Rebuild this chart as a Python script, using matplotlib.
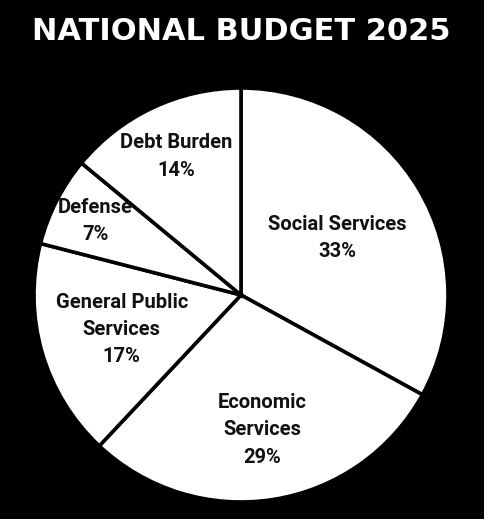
import numpy as np
import matplotlib.pyplot as plt
from matplotlib.patches import Rectangle

categories = ['Social Services', 'Economic\nServices', 'General Public\nServices', 'Defense', 'Debt Burden']
shares = [33, 29, 17, 7, 14]
# how far out each label sits, as a fraction of the radius
label_dist = [0.54, 0.66, 0.60, 0.79, 0.74]

fig = plt.figure(figsize=(4.92, 5.32), dpi=100, facecolor='white')
# black card with a thin white strip at right and bottom, like the scan
fig.patches.append(Rectangle((0, 13 / 532), 484 / 492, 1 - 13 / 532,
                             transform=fig.transFigure, facecolor='black',
                             edgecolor='none', zorder=-5))

ax = fig.add_axes([34 / 492, 30 / 532, 414 / 492, 414 / 532])
ax.set_facecolor('none')
ax.set_zorder(2)
wedges, _ = ax.pie(shares, startangle=90, counterclock=False, radius=1,
                   colors=['white'] * len(shares),
                   wedgeprops=dict(edgecolor='black', linewidth=2.6))

for w, name, pct, d in zip(wedges, categories, shares, label_dist):
    mid = np.deg2rad((w.theta1 + w.theta2) / 2)
    ax.text(d * np.cos(mid), d * np.sin(mid), f'{name}\n{pct}%',
            ha='center', va='center', fontsize=14.5, fontweight='bold',
            family='Roboto', linespacing=1.55, color='#111111')

ax.set_xlim(-1, 1)
ax.set_ylim(-1, 1)
ax.set_aspect('equal')
ax.axis('off')

fig.text(241 / 492, 1 - 31 / 532, 'NATIONAL BUDGET 2025', ha='center', va='center',
         color='white', fontsize=22, fontweight='bold', family='DejaVu Sans',
         zorder=3)

fig.savefig('out.png', dpi=100, facecolor=fig.get_facecolor())
